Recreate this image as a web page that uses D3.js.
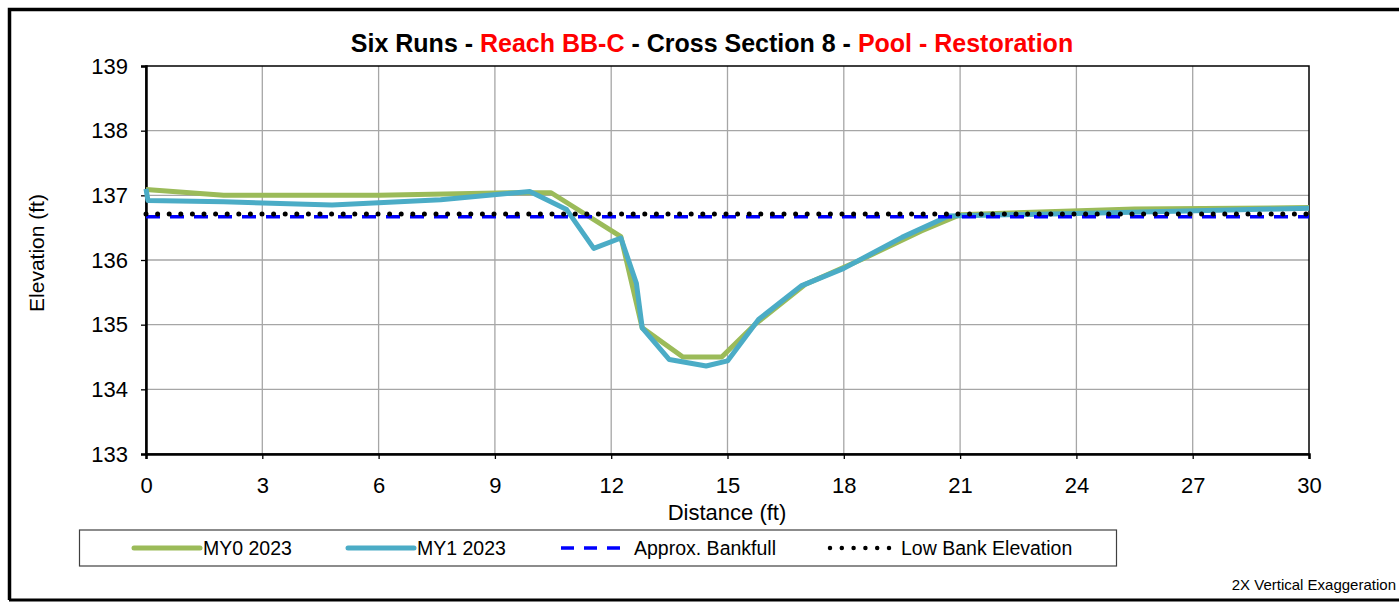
<!DOCTYPE html>
<html><head><meta charset="utf-8">
<script src="https://cdn.jsdelivr.net/npm/d3@7"></script>
<style>body{margin:0;background:#fff;} text{font-family:"Liberation Sans",Arial,sans-serif;}</style>
</head><body>
<svg id="chart" width="1399" height="602"></svg>
<script>
const distMY0 = [0, 2, 6, 9.5, 10.45, 12.25, 12.8, 13.85, 14.85, 15.7, 17, 18.5, 20, 21, 25.5, 30];
const elevMY0 = [137.09, 137.0, 137.0, 137.04, 137.04, 136.36, 134.95, 134.5, 134.5, 135.0, 135.62, 136.02, 136.45, 136.7, 136.79, 136.81];
const distMY1 = [0, 0.05, 2, 4.8, 7.6, 9.9, 10.85, 11.55, 12.25, 12.65, 12.8, 13.5, 14.45, 15, 15.8, 16.9, 18, 19.5, 20.7, 24, 30];
const elevMY1 = [137.1, 136.92, 136.9, 136.85, 136.93, 137.06, 136.78, 136.18, 136.34, 135.64, 134.95, 134.46, 134.36, 134.44, 135.08, 135.6, 135.87, 136.35, 136.68, 136.72, 136.8];
const distBankfull = [0, 30];
const elevBankfull = [136.67, 136.67];
const distLowBank = [0, 30];
const elevLowBank = [136.71, 136.71];
const xTicks = [0, 3, 6, 9, 12, 15, 18, 21, 24, 27, 30];
const yTicks = [133, 134, 135, 136, 137, 138, 139];
const titleParts = [["Six Runs - ", "#000"], ["Reach BB-C", "#FF0000"], [" - Cross Section 8 - ", "#000"], ["Pool - Restoration", "#FF0000"]];
const legendNames = ["MY0 2023", "MY1 2023", "Approx. Bankfull", "Low Bank Elevation"];

const svg = d3.select("#chart");
const L = 146, R = 1309, T = 66, B = 454;
const x = d3.scaleLinear().domain([0, 30]).range([L, R]);
const y = d3.scaleLinear().domain([133, 139]).range([B, T]);

// outer frame
svg.append("path").attr("d", "M9.5,600 L9.5,9.5 L1399,9.5").attr("fill", "none").attr("stroke", "#000").attr("stroke-width", 3.5);
svg.append("line").attr("x1", 9).attr("x2", 1399).attr("y1", 600).attr("y2", 600).attr("stroke", "#000").attr("stroke-width", 3);

// grid
const g = svg.append("g");
g.selectAll(".vg").data(xTicks.slice(1, -1)).join("line")
  .attr("x1", d => x(d)).attr("x2", d => x(d)).attr("y1", T).attr("y2", B)
  .attr("stroke", "#A6A6A6").attr("stroke-width", 1.3);
g.selectAll(".hg").data(yTicks.slice(1, -1)).join("line")
  .attr("x1", L).attr("x2", R).attr("y1", d => y(d)).attr("y2", d => y(d))
  .attr("stroke", "#A6A6A6").attr("stroke-width", 1.3);

// plot border
svg.append("rect").attr("x", L).attr("y", T).attr("width", R - L).attr("height", B - T)
  .attr("fill", "none").attr("stroke", "#000").attr("stroke-width", 1.5);

// axes
const xAxis = d3.axisBottom(x).tickValues(xTicks).tickSize(5).tickPadding(18).tickFormat(d3.format("d"));
const yAxis = d3.axisLeft(y).tickValues(yTicks).tickSize(5).tickPadding(13).tickFormat(d3.format("d"));
const gx = svg.append("g").attr("transform", `translate(0,${B})`).call(xAxis);
const gy = svg.append("g").attr("transform", `translate(${L},0)`).call(yAxis);
[gx, gy].forEach(a => {
  a.select(".domain").attr("stroke", "#000").attr("stroke-width", 2.5);
  a.selectAll(".tick line").attr("stroke", "#000").attr("stroke-width", 1.3);
  a.selectAll(".tick text").attr("font-family", "Liberation Sans, Arial, sans-serif").attr("font-size", 22).attr("fill", "#000");
});

// lines
const line = d3.line().x(d => x(d[0])).y(d => y(d[1]));
const zip = (a, b) => a.map((v, i) => [v, b[i]]);
svg.append("path").datum(zip(distMY0, elevMY0)).attr("d", line).attr("fill", "none")
  .attr("stroke", "#9BBB59").attr("stroke-width", 5).attr("stroke-linejoin", "round");
svg.append("path").datum(zip(distMY1, elevMY1)).attr("d", line).attr("fill", "none")
  .attr("stroke", "#4BACC6").attr("stroke-width", 5).attr("stroke-linejoin", "round");
svg.append("path").datum(zip(distBankfull, elevBankfull)).attr("d", line).attr("fill", "none")
  .attr("stroke", "#0000FF").attr("stroke-width", 3.5).attr("stroke-dasharray", "14,10");
svg.append("path").datum(zip(distLowBank, elevLowBank)).attr("d", line).attr("fill", "none")
  .attr("stroke", "#000").attr("stroke-width", 5).attr("stroke-dasharray", "0,11.6").attr("stroke-linecap", "round");

// title
const title = svg.append("text").attr("x", 712).attr("y", 52).attr("text-anchor", "middle")
  .attr("font-size", 25).attr("font-weight", "bold");
titleParts.forEach(p => title.append("tspan").attr("fill", p[1]).text(p[0]));

// axis titles
svg.append("text").attr("x", 727).attr("y", 520).attr("text-anchor", "middle").attr("font-size", 22).text("Distance (ft)");
svg.append("text").attr("transform", "translate(44,253) rotate(-90)").attr("text-anchor", "middle").attr("font-size", 21).text("Elevation (ft)");

// legend
svg.append("rect").attr("x", 79.5).attr("y", 530).attr("width", 1037).attr("height", 36)
  .attr("fill", "#fff").attr("stroke", "#404040").attr("stroke-width", 1.2);
const legItems = [
  {x1: 134, x2: 200, tx: 203, stroke: "#9BBB59", w: 5, dash: null, cap: "round"},
  {x1: 348, x2: 414, tx: 417, stroke: "#4BACC6", w: 5, dash: null, cap: "round"},
  {x1: 561, x2: 629, tx: 634, stroke: "#0000FF", w: 3.5, dash: "13,10", cap: "butt"},
  {x1: 830, x2: 893, tx: 901, stroke: "#000", w: 4.5, dash: "0,11.8", cap: "round"}
];
legItems.forEach((it, i) => {
  svg.append("line").attr("x1", it.x1).attr("x2", it.x2).attr("y1", 548).attr("y2", 548)
    .attr("stroke", it.stroke).attr("stroke-width", it.w).attr("stroke-dasharray", it.dash).attr("stroke-linecap", it.cap);
  svg.append("text").attr("x", it.tx).attr("y", 554.5).attr("font-size", 19.5).text(legendNames[i]);
});

svg.append("text").attr("x", 1396).attr("y", 590).attr("text-anchor", "end").attr("font-size", 15).text("2X Vertical Exaggeration");
</script>
</body></html>
